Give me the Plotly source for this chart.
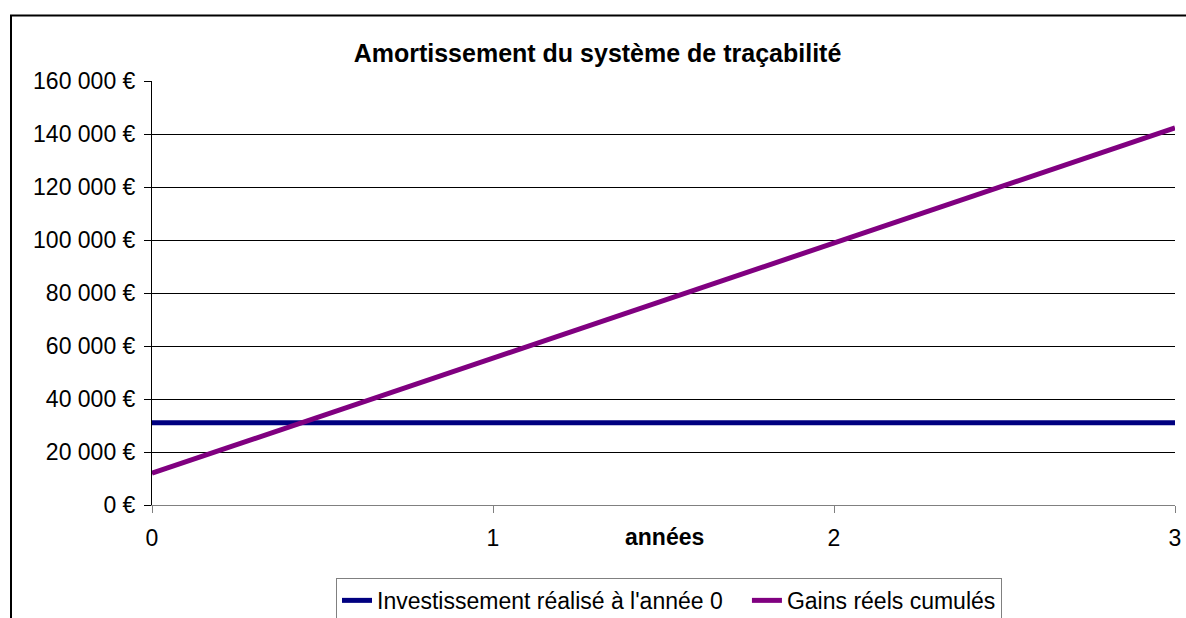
import plotly.graph_objects as go

# Data
years = [0, 1, 2, 3]
investissement = [31000, 31000, 31000, 31000]
gains_cumules = [12000, 55500, 99000, 142300]
series_names = ["Investissement réalisé à l'année 0", "Gains réels cumulés"]
y_tickvals = [0, 20000, 40000, 60000, 80000, 100000, 120000, 140000, 160000]
y_ticktext = ["0 €", "20 000 €", "40 000 €", "60 000 €", "80 000 €",
              "100 000 €", "120 000 €", "140 000 €", "160 000 €"]
x_tickvals = [0, 1, 2, 3]
x_ticktext = ["0", "1", "2", "3"]

W, H = 1186, 618
PL, PR, PT, PB = 152, 1175, 80.5, 505   # plot area in page pixels
L = PL
R = W - PR
T = PT
B = H - PB
pw = W - L - R
ph = H - T - B


def px_x(px):
    return (px - L) / pw


def px_y(py):
    return (PB - py) / ph


FONT = "Liberation Sans, Arial, sans-serif"

fig = go.Figure()
fig.add_trace(go.Scatter(x=years, y=investissement, mode="lines",
                         name=series_names[0] + "\u00a0\u00a0\u00a0",
                         line=dict(color="#000080", width=5)))
fig.add_trace(go.Scatter(x=years, y=gains_cumules, mode="lines",
                         name=series_names[1],
                         line=dict(color="#800080", width=5)))

fig.update_layout(
    width=W, height=H,
    margin=dict(l=L, r=R, t=T, b=B, autoexpand=False),
    paper_bgcolor="white", plot_bgcolor="white",
    font=dict(family=FONT, size=23, color="black"),
    title=dict(text="<b>Amortissement du système de traçabilité</b>",
               x=597.5 / W, xanchor="center",
               y=1 - 53 / H, yanchor="middle",
               font=dict(family=FONT, size=25, color="black")),
    showlegend=True,
    legend=dict(orientation="h", x=px_x(336), xanchor="left",
                y=px_y(578), yanchor="top",
                bordercolor="#808080", borderwidth=1, bgcolor="white",
                font=dict(family=FONT, size=23, color="black"),
                itemwidth=30, tracegroupgap=0),
    xaxis=dict(range=[0, 3], tickvals=x_tickvals, ticktext=x_ticktext,
               showgrid=False, zeroline=False, showline=True,
               linecolor="#808080", linewidth=1,
               ticks="outside", ticklen=7, tickcolor="#808080", tickwidth=1,
               tickfont=dict(size=23), ticklabelstandoff=5,
               ticklabeloverflow="allow", fixedrange=True),
    yaxis=dict(range=[0, 160000], tickvals=y_tickvals, ticktext=y_ticktext,
               showgrid=True, gridcolor="#000000", gridwidth=1,
               zeroline=False, showline=True, linecolor="black", linewidth=1,
               ticks="outside", ticklen=7, tickcolor="black", tickwidth=1,
               tickfont=dict(size=23), ticklabelstandoff=4, fixedrange=True),
    shapes=[dict(type="rect", xref="paper", yref="paper",
                 x0=px_x(11), x1=px_x(1200), y0=px_y(640), y1=px_y(15),
                 line=dict(color="black", width=2), fillcolor="rgba(0,0,0,0)",
                 layer="below")],
    annotations=[dict(text="<b>années</b>", xref="paper", yref="paper",
                      x=px_x(664), y=px_y(537), xanchor="center",
                      yanchor="middle", showarrow=False,
                      font=dict(family=FONT, size=23, color="black"))],
)

fig.write_html("out.html",
               config={"displayModeBar": False},
               post_script="document.body.style.margin='0';"
                           "document.body.style.overflow='hidden';")
